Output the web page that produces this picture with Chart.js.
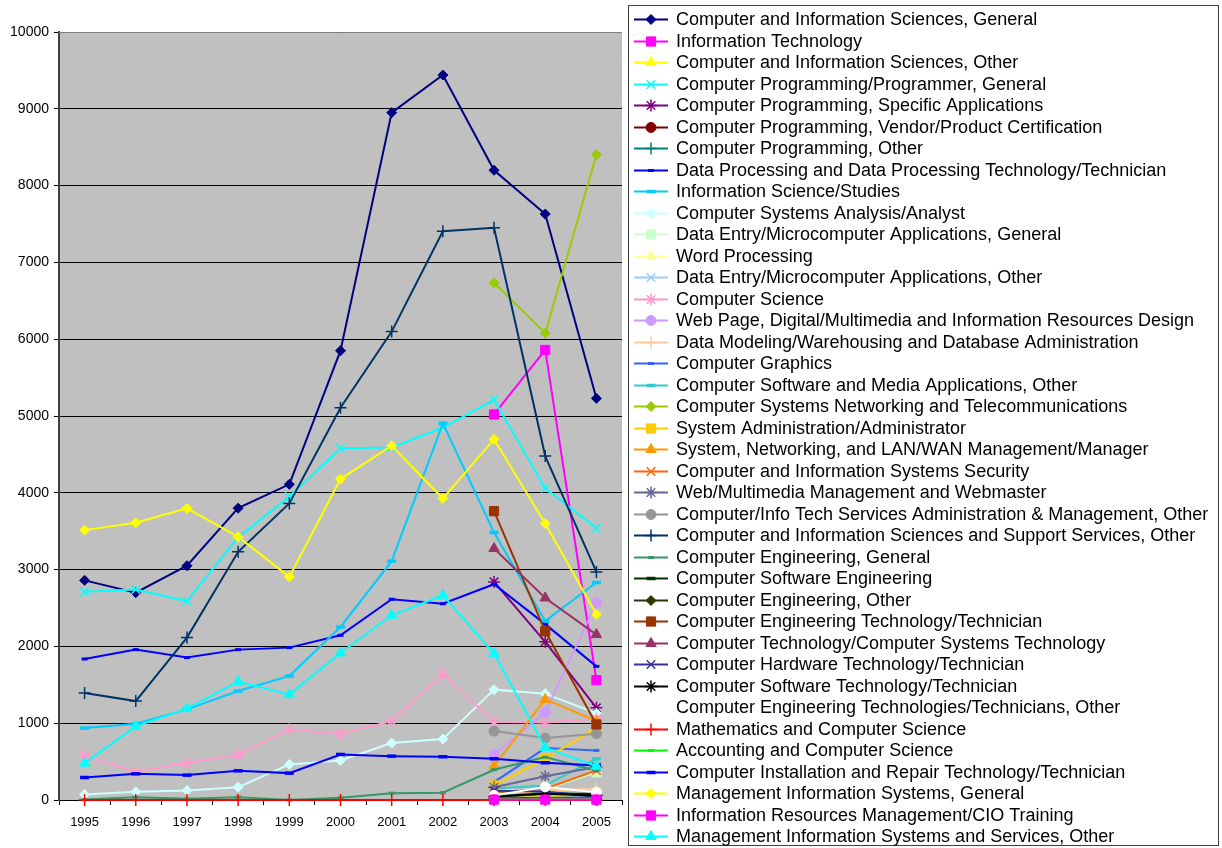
<!DOCTYPE html>
<html>
<head>
<meta charset="utf-8">
<title>Computer degrees 1995-2005</title>
<script src="https://cdn.jsdelivr.net/npm/chart.js@4.4.1/dist/chart.umd.min.js"></script>
<style>
  body { margin: 0; background: #fff; }
  #chart { display: block; }
</style>
</head>
<body>
<canvas id="chart" width="1222" height="848"></canvas>
<script>
// Categories
const years = ["1995", "1996", "1997", "1998", "1999", "2000", "2001", "2002", "2003", "2004", "2005"];
const yTicks = [0, 1000, 2000, 3000, 4000, 5000, 6000, 7000, 8000, 9000, 10000];
const N = null;

// Series values
const cisGeneral        = [2860, 2700, 3050, 3800, 4110, 5850, 8950, 9440, 8200, 7630, 5230];
const infoTech          = [N, N, N, N, N, N, N, N, 5020, 5860, 1560];
const cisOther          = [N, N, N, N, N, N, N, N, 20, 40, 30];
const progGeneral       = [2710, 2740, 2590, 3420, 3950, 4580, 4590, 4850, 5210, 4060, 3540];
const progSpecific      = [N, N, N, N, N, N, N, N, 2840, 2060, 1200];
const progVendor        = [N, N, N, N, N, N, N, N, 10, 15, 5];
const progOther         = [N, N, N, N, N, N, N, N, 80, 100, 60];
const dataProcessing    = [1836, 1958, 1854, 1958, 1984, 2145, 2614, 2555, 2810, 2290, 1740];
const infoScience       = [936, 993, 1180, 1419, 1614, 2253, 3110, 4905, 3484, 2330, 2832];
const sysAnalysis       = [72, 107, 124, 167, 463, 515, 741, 793, 1437, 1385, 1130];
const dataEntryGeneral  = [N, N, N, N, N, N, N, N, 120, 140, 360];
const wordProcessing    = [N, N, N, N, N, N, N, N, 30, 20, 10];
const dataEntryOther    = [N, N, N, N, N, N, N, N, 60, 70, 40];
const compScience       = [571, 368, 485, 589, 919, 863, 1027, 1640, 1015, 1010, 1059];
const webDesign         = [N, N, N, N, N, N, N, N, 589, 1141, 2566];
const dataModeling      = [N, N, N, N, N, N, N, N, 70, 120, 150];
const graphics          = [N, N, N, N, N, N, N, N, 232, 676, 645];
const softwareMedia     = [N, N, N, N, N, N, N, N, 150, 189, 537];
const networking        = [N, N, N, N, N, N, N, N, 6734, 6078, 8403];
const sysAdmin          = [N, N, N, N, N, N, N, N, 189, 537, 940];
const lanWan            = [N, N, N, N, N, N, N, N, 441, 1310, 1030];
const security          = [N, N, N, N, N, N, N, N, 102, 146, 385];
const webmaster         = [N, N, N, N, N, N, N, N, 167, 310, 430];
const itServicesAdmin   = [N, N, N, N, N, N, N, N, 897, 806, 863];
const supportOther      = [1393, 1288, 2115, 3231, 3862, 5108, 6099, 7405, 7451, 4478, 2970];
const compEngGeneral    = [5, 37, 15, 37, 0, 28, 89, 94, 394, 558, 385];
const softwareEng       = [N, N, N, N, N, N, N, N, 40, 80, 80];
const compEngOther      = [N, N, N, N, N, N, N, N, 20, 30, 30];
const compEngTech       = [N, N, N, N, N, N, N, N, 3761, 2197, 984];
const compTech          = [N, N, N, N, N, N, N, N, 3275, 2631, 2154];
const hardwareTech      = [N, N, N, N, N, N, N, N, 120, 110, 40];
const softwareTech      = [N, N, N, N, N, N, N, N, 50, 80, 60];
const compEngTechOther  = [N, N, N, N, N, N, N, N, 60, 170, 100];
const mathCS            = [0, 0, 0, 0, 0, 0, 0, 0, 0, 0, 0];
const accountingCS      = [N, N, N, N, N, N, N, N, 10, 15, 20];
const installRepair     = [293, 341, 324, 380, 350, 593, 571, 563, 537, 485, 450];
const misGeneral        = [3514, 3609, 3797, 3426, 2905, 4179, 4613, 3927, 4696, 3601, 2419];
const irmCio            = [N, N, N, N, N, N, N, N, 5, 5, 5];
const misServicesOther  = [480, 958, 1189, 1541, 1372, 1914, 2405, 2666, 1906, 680, 440];

// label, values, colour, marker
const seriesList = [
  ["Computer and Information Sciences, General", cisGeneral, "#000080", "diamond"],
  ["Information Technology", infoTech, "#FF00FF", "square"],
  ["Computer and Information Sciences, Other", cisOther, "#FFFF00", "triangle"],
  ["Computer Programming/Programmer, General", progGeneral, "#00FFFF", "x"],
  ["Computer Programming, Specific Applications", progSpecific, "#800080", "star"],
  ["Computer Programming, Vendor/Product Certification", progVendor, "#800000", "circle"],
  ["Computer Programming, Other", progOther, "#008080", "plus"],
  ["Data Processing and Data Processing Technology/Technician", dataProcessing, "#0000FF", "dash"],
  ["Information Science/Studies", infoScience, "#00CCFF", "longdash"],
  ["Computer Systems Analysis/Analyst", sysAnalysis, "#CCFFFF", "diamond"],
  ["Data Entry/Microcomputer Applications, General", dataEntryGeneral, "#CCFFCC", "square"],
  ["Word Processing", wordProcessing, "#FFFF99", "triangle"],
  ["Data Entry/Microcomputer Applications, Other", dataEntryOther, "#99CCFF", "x"],
  ["Computer Science", compScience, "#FF99CC", "star"],
  ["Web Page, Digital/Multimedia and Information Resources Design", webDesign, "#CC99FF", "circle"],
  ["Data Modeling/Warehousing and Database Administration", dataModeling, "#FFCC99", "plus"],
  ["Computer Graphics", graphics, "#3366FF", "dash"],
  ["Computer Software and Media Applications, Other", softwareMedia, "#33CCCC", "longdash"],
  ["Computer Systems Networking and Telecommunications", networking, "#99CC00", "diamond"],
  ["System Administration/Administrator", sysAdmin, "#FFCC00", "square"],
  ["System, Networking, and LAN/WAN Management/Manager", lanWan, "#FF9900", "triangle"],
  ["Computer and Information Systems Security", security, "#FF6600", "x"],
  ["Web/Multimedia Management and Webmaster", webmaster, "#666699", "star"],
  ["Computer/Info Tech Services Administration & Management, Other", itServicesAdmin, "#969696", "circle"],
  ["Computer and Information Sciences and Support Services, Other", supportOther, "#003366", "plus"],
  ["Computer Engineering, General", compEngGeneral, "#339966", "dash"],
  ["Computer Software Engineering", softwareEng, "#003300", "longdash"],
  ["Computer Engineering, Other", compEngOther, "#333300", "diamond"],
  ["Computer Engineering Technology/Technician", compEngTech, "#993300", "square"],
  ["Computer Technology/Computer Systems Technology", compTech, "#993366", "triangle"],
  ["Computer Hardware Technology/Technician", hardwareTech, "#333399", "x"],
  ["Computer Software Technology/Technician", softwareTech, "#000000", "star"],
  ["Computer Engineering Technologies/Technicians, Other", compEngTechOther, "#FFFFFF", "circle"],
  ["Mathematics and Computer Science", mathCS, "#FF0000", "plus"],
  ["Accounting and Computer Science", accountingCS, "#00FF00", "dash"],
  ["Computer Installation and Repair Technology/Technician", installRepair, "#0000FF", "longdash"],
  ["Management Information Systems, General", misGeneral, "#FFFF00", "diamond"],
  ["Information Resources Management/CIO Training", irmCio, "#FF00FF", "square"],
  ["Management Information Systems and Services, Other", misServicesOther, "#00FFFF", "triangle"]
];

// marker name -> Chart.js point settings
const markerStyles = {
  diamond:  { pointStyle: "rectRot",  radius: 5,   width: 1 },
  square:   { pointStyle: "rect",     radius: 6.5, width: 1 },
  triangle: { pointStyle: "triangle", radius: 6,   width: 1 },
  x:        { pointStyle: "crossRot", radius: 6,   width: 1.5 },
  star:     { pointStyle: "star",     radius: 6,   width: 1.5 },
  circle:   { pointStyle: "circle",   radius: 5,   width: 1 },
  plus:     { pointStyle: "cross",    radius: 6,   width: 1.5 },
  dash:     { pointStyle: "line",     radius: 3,   width: 3 },
  longdash: { pointStyle: "line",     radius: 4.5, width: 3.5 }
};

function buildDatasets() {
  return seriesList.map(function (s, i) {
    const m = markerStyles[s[3]];
    return {
      label: s[0],
      data: s[1],
      borderColor: s[2],
      backgroundColor: s[2],
      pointBackgroundColor: s[2],
      pointBorderColor: s[2],
      borderWidth: 2,
      pointStyle: m.pointStyle,
      pointRadius: m.radius,
      pointBorderWidth: m.width,
      marker: s[3],
      tension: 0,
      clip: false,
      order: seriesList.length - i
    };
  });
}

// Legend marker drawing (same shapes as Chart.js point styles)
function drawMarker(ctx, name, x, y, color) {
  const m = markerStyles[name];
  const r = m.radius;
  ctx.save();
  ctx.fillStyle = color;
  ctx.strokeStyle = color;
  ctx.lineWidth = m.width;
  ctx.beginPath();
  if (name === "diamond") {
    ctx.moveTo(x - r, y); ctx.lineTo(x, y - r); ctx.lineTo(x + r, y); ctx.lineTo(x, y + r);
    ctx.closePath(); ctx.fill(); ctx.stroke();
  } else if (name === "square") {
    const h = r * Math.SQRT1_2;
    ctx.rect(x - h, y - h, 2 * h, 2 * h); ctx.fill(); ctx.stroke();
  } else if (name === "triangle") {
    ctx.moveTo(x, y - r);
    ctx.lineTo(x - r * 0.866, y + r * 0.5);
    ctx.lineTo(x + r * 0.866, y + r * 0.5);
    ctx.closePath(); ctx.fill(); ctx.stroke();
  } else if (name === "circle") {
    ctx.arc(x, y, r, 0, Math.PI * 2); ctx.fill(); ctx.stroke();
  } else if (name === "x" || name === "plus" || name === "star") {
    const d = r * Math.SQRT1_2;
    if (name !== "x") {
      ctx.moveTo(x - r, y); ctx.lineTo(x + r, y);
      ctx.moveTo(x, y - r); ctx.lineTo(x, y + r);
    }
    if (name !== "plus") {
      ctx.moveTo(x - d, y - d); ctx.lineTo(x + d, y + d);
      ctx.moveTo(x - d, y + d); ctx.lineTo(x + d, y - d);
    }
    ctx.stroke();
  } else {
    ctx.moveTo(x - r, y); ctx.lineTo(x + r, y); ctx.stroke();
  }
  ctx.restore();
}

// Grey plot background and top border
const plotBackground = {
  id: "plotBackground",
  beforeDraw(chart) {
    const a = chart.chartArea;
    const ctx = chart.ctx;
    ctx.save();
    ctx.fillStyle = "#C0C0C0";
    ctx.fillRect(a.left, a.top, a.right - a.left, a.bottom - a.top);
    ctx.restore();
  },
  afterDatasetsDraw(chart) {
    const a = chart.chartArea;
    const ctx = chart.ctx;
    ctx.save();
    ctx.strokeStyle = "#808080";
    ctx.lineWidth = 1;
    ctx.beginPath();
    ctx.moveTo(a.left, a.top + 0.5);
    ctx.lineTo(a.right, a.top + 0.5);
    ctx.stroke();
    ctx.restore();
  }
};

// Boxed legend on the right
const boxLegend = {
  id: "boxLegend",
  afterDraw(chart) {
    const ctx = chart.ctx;
    ctx.save();
    ctx.strokeStyle = "#404040";
    ctx.lineWidth = 1;
    ctx.strokeRect(628.5, 5.5, 590, 840);
    ctx.font = "18px 'Liberation Sans', Arial, sans-serif";
    ctx.textBaseline = "middle";
    chart.data.datasets.forEach(function (ds, i) {
      const y = Math.round(19 + i * 21.5) + 0.5;
      ctx.strokeStyle = ds.borderColor;
      ctx.lineWidth = 2;
      ctx.beginPath();
      ctx.moveTo(634, y);
      ctx.lineTo(668, y);
      ctx.stroke();
      drawMarker(ctx, ds.marker, 651, y, ds.borderColor);
      ctx.fillStyle = "#000";
      ctx.fillText(ds.label, 676, y + 1);
    });
    ctx.restore();
  }
};

document.addEventListener("DOMContentLoaded", function () {
  const ctx = document.getElementById("chart").getContext("2d");

  new Chart(ctx, {
    type: "line",
    data: {
      labels: years,
      datasets: buildDatasets()
    },
    options: {
      responsive: false,
      animation: false,
      devicePixelRatio: 1,
      layout: { padding: { top: 32, right: 600, left: 0, bottom: 0 } },
      plugins: {
        legend: { display: false },
        tooltip: { enabled: false }
      },
      elements: { line: { fill: false } },
      scales: {
        x: {
          offset: true,
          grid: {
            offset: true,
            drawOnChartArea: false,
            drawTicks: true,
            tickLength: 5,
            color: "#000"
          },
          border: { color: "#000", width: 1 },
          ticks: {
            color: "#000",
            padding: 10,
            maxRotation: 0,
            font: { family: "'Liberation Sans', Arial, sans-serif", size: 13 }
          },
          afterFit: function (s) { s.height = 48; }
        },
        y: {
          min: 0,
          max: 10000,
          afterBuildTicks: function (s) {
            s.ticks = yTicks.map(function (v) { return { value: v }; });
          },
          grid: {
            color: "#000",
            lineWidth: 1,
            drawTicks: true,
            tickLength: 5
          },
          border: { color: "#404040", width: 2 },
          ticks: {
            color: "#000",
            padding: 5,
            font: { family: "'Liberation Sans', Arial, sans-serif", size: 14 },
            callback: function (v) { return String(v); }
          },
          afterFit: function (s) { s.width = 59; }
        }
      }
    },
    plugins: [plotBackground, boxLegend]
  });
});
</script>
</body>
</html>
